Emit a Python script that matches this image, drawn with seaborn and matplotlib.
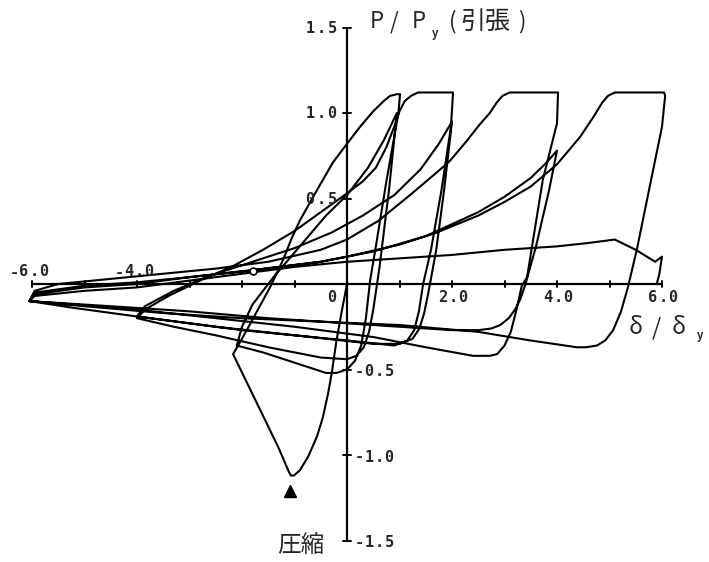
import numpy as np
import pandas as pd
import matplotlib
matplotlib.use("Agg")
import matplotlib.pyplot as plt
import seaborn as sns

# ---- hysteresis branches (delta/delta_y , P/P_y), in loading order ----
# first compression, buckling and post-buckling
b01_x = [0.0, -0.1, -0.2, -0.29, -0.36, -0.46, -0.57, -0.74, -0.9, -1.01, -1.07]
b01_y = [0.0, -0.16, -0.33, -0.52, -0.64, -0.78, -0.89, -1.01, -1.09, -1.12, -1.12]
b02_x = [-1.12, -1.3, -1.6, -1.9, -2.17]
b02_y = [-1.09, -0.96, -0.77, -0.58, -0.41]
# reload to first tension cap
b03_x = [-2.0, -1.75, -1.45, -1.22, -1.05, -0.9, -0.57, -0.27, 0.0, 0.25, 0.5, 0.7, 0.82, 0.95, 1.01]
b03_y = [-0.32, -0.18, -0.01, 0.14, 0.27, 0.37, 0.55, 0.71, 0.82, 0.92, 1.01, 1.07, 1.1, 1.11, 1.11]
b04_x = [0.98, 0.75, 0.55, 0.44, 0.36, 0.27, 0.15, 0.0, -0.2, -0.4, -1.0, -1.6, -2.1]
b04_y = [1.0, 0.6, 0.22, 0.02, -0.2, -0.36, -0.45, -0.5, -0.52, -0.52, -0.46, -0.40, -0.36]
b05_x = [-2.0, -1.8, -1.4, -0.9, -0.4, 0.0, 0.4, 0.7, 0.95]
b05_y = [-0.25, -0.12, 0.04, 0.22, 0.4, 0.52, 0.68, 0.84, 1.0]
b06_x = [0.8, 0.62, 0.5, 0.42, 0.32, 0.18, 0.0, -0.5, -1.5, -2.5, -3.3, -4.0]
b06_y = [0.55, 0.1, -0.15, -0.28, -0.37, -0.42, -0.44, -0.43, -0.37, -0.3, -0.25, -0.2]
# second amplitude
b07_x = [-3.85, -3.4, -2.8, -2.2, -1.6, -1.0, -0.5, 0.0, 0.3, 0.55, 0.75, 0.9, 1.0, 1.1, 1.22, 1.35, 2.02]
b07_y = [-0.15, -0.07, 0.02, 0.1, 0.2, 0.31, 0.42, 0.53, 0.6, 0.68, 0.8, 0.92, 1.01, 1.07, 1.1, 1.12, 1.12]
b08_x = [1.98, 1.8, 1.6, 1.45, 1.37, 1.28, 1.15, 0.9, 0.0, -1.0, -2.0, -3.0, -4.0]
b08_y = [0.92, 0.55, 0.2, 0.0, -0.16, -0.27, -0.33, -0.36, -0.33, -0.3, -0.27, -0.23, -0.19]
b09_x = [-3.85, -3.3, -2.6, -1.8, -1.0, -0.3, 0.3, 0.9, 1.4, 1.75, 2.0]
b09_y = [-0.13, -0.04, 0.05, 0.13, 0.21, 0.3, 0.4, 0.52, 0.67, 0.82, 0.95]
b10_x = [1.85, 1.7, 1.55, 1.47, 1.38, 1.25, 1.0, 0.5, -1.0, -2.5, -4.0, -5.2, -6.05]
b10_y = [0.55, 0.2, -0.05, -0.17, -0.26, -0.32, -0.35, -0.35, -0.3, -0.25, -0.19, -0.14, -0.1]
# third amplitude
b11_x = [-5.95, -5.5, -4.5, -3.5, -2.5, -1.5, -0.5, 0.0, 0.6, 1.2, 1.7, 1.96, 2.29, 2.52, 2.72, 2.85, 2.96, 3.1, 4.02]
b11_y = [-0.04, 0.0, 0.03, 0.06, 0.09, 0.13, 0.2, 0.26, 0.37, 0.52, 0.65, 0.72, 0.84, 0.93, 1.0, 1.06, 1.1, 1.12, 1.12]
b12_x = [4.0, 3.73, 3.43, 3.33, 3.22, 3.12, 3.0, 2.86, 2.72, 2.4, 1.5, 0.5, -1.0, -2.5, -4.0, -5.2, -6.05]
b12_y = [0.94, 0.61, 0.04, -0.01, -0.16, -0.28, -0.36, -0.41, -0.42, -0.42, -0.37, -0.31, -0.25, -0.2, -0.15, -0.12, -0.1]
b13_x = [-5.95, -5.0, -4.0, -3.0, -1.8, -0.5, 0.5, 1.5, 2.5, 3.0, 3.5, 3.8, 4.0]
b13_y = [-0.05, -0.01, 0.01, 0.04, 0.08, 0.13, 0.19, 0.28, 0.42, 0.51, 0.62, 0.71, 0.78]
b14_x = [3.85, 3.6, 3.4, 3.3, 3.2, 3.08, 2.92, 2.75, 2.5, 2.0, 1.0, 0.0, -1.5, -3.0, -4.5, -6.05]
b14_y = [0.55, 0.22, 0.0, -0.09, -0.15, -0.2, -0.24, -0.26, -0.27, -0.27, -0.25, -0.23, -0.2, -0.16, -0.13, -0.1]
# fourth amplitude
b15_x = [-5.95, -5.0, -4.0, -3.0, -1.85, -0.5, 0.0, 1.0, 1.7, 2.5, 3.0, 3.5, 4.0, 4.44, 4.7, 4.86, 4.97, 5.1, 6.04]
b15_y = [-0.06, -0.02, 0.0, 0.04, 0.08, 0.13, 0.16, 0.23, 0.3, 0.4, 0.48, 0.57, 0.7, 0.86, 0.98, 1.06, 1.1, 1.12, 1.12]
b16_x = [6.06, 6.0, 5.52, 5.35, 5.22, 5.07, 4.92, 4.76, 4.55, 4.38, 3.49, 2.5, 1.0, -0.5, -2.0, -3.5, -5.0, -6.05]
b16_y = [1.1, 0.92, 0.2, -0.02, -0.16, -0.27, -0.33, -0.36, -0.37, -0.37, -0.33, -0.28, -0.24, -0.22, -0.2, -0.17, -0.13, -0.1]
b17_x = [-5.95, -5.0, -4.0, -3.0, -2.0, -1.0, 0.0, 1.0, 2.0, 3.0, 4.0, 4.6, 5.1, 5.5, 5.87, 6.0, 5.95, 5.9]
b17_y = [-0.07, -0.04, -0.02, 0.02, 0.06, 0.1, 0.13, 0.15, 0.17, 0.2, 0.22, 0.24, 0.26, 0.2, 0.13, 0.16, 0.06, 0.0]

branches = [(b01_x, b01_y), (b02_x, b02_y), (b03_x, b03_y), (b04_x, b04_y),
            (b05_x, b05_y), (b06_x, b06_y), (b07_x, b07_y), (b08_x, b08_y),
            (b09_x, b09_y), (b10_x, b10_y), (b11_x, b11_y), (b12_x, b12_y),
            (b13_x, b13_y), (b14_x, b14_y), (b15_x, b15_y), (b16_x, b16_y),
            (b17_x, b17_y)]

x_ticks = [-6, -5, -4, -3, -2, -1, 0, 1, 2, 3, 4, 5, 6]
x_labels = ["-6.0", "-4.0", "0", "2.0", "4.0", "6.0"]
x_label_pos = [-6.0, -4.0, 0.0, 2.0, 4.0, 6.0]
y_ticks = [-1.5, -1.0, -0.5, 0.5, 1.0, 1.5]
y_labels = ["-1.5", "-1.0", "-0.5", "0.5", "1.0", "1.5"]
buckling_point = (-1.09, -1.21)
marker_point = (-1.79, 0.076)

sns.set_theme(style="white")
plt.rcParams["font.family"] = ["Noto Sans CJK JP", "DejaVu Sans"]

xs = np.concatenate([np.asarray(b[0], float) for b in branches])
ys = np.concatenate([np.asarray(b[1], float) for b in branches])
df = pd.DataFrame({"d": xs, "p": ys})

# one data unit = 52.5 px horizontally, 171 px vertically; origin at (347, 284) px
X0, Y0, SX, SY = 347.0, 284.0, 52.5, 171.0
W, H = 709, 562

fig = plt.figure(figsize=(W / 100, H / 100), dpi=100)
ax = fig.add_axes([0, 0, 1, 1])
ax.set_xlim(-X0 / SX, (W - X0) / SX)
ax.set_ylim(-(H - Y0) / SY, Y0 / SY)
ax.axis("off")

sns.lineplot(data=df, x="d", y="p", sort=False, estimator=None, color="black",
             lw=1.5, ax=ax, legend=False)

# axes crossing at the origin
ax.plot([-6, 6], [0, 0], color="black", lw=1.6, solid_capstyle="butt")
ax.plot([0, 0], [-1.5, 1.5], color="black", lw=1.6, solid_capstyle="butt")
for t in x_ticks:
    ax.plot([t, t], [-0.018, 0.018], color="black", lw=1.4)
for t in y_ticks:
    ax.plot([-0.075, 0.075], [t, t], color="black", lw=1.4)


def spaced(label, cx_px, cy_px, pitch=10.0, size=11):
    """Write a label one glyph at a time, centred at a pixel position."""
    n = len(label)
    for i, ch in enumerate(label):
        px = cx_px + (i - (n - 1) / 2) * pitch
        ax.text((px - X0) / SX, (Y0 - cy_px) / SY, ch, ha="center", va="center",
                family="DejaVu Sans Mono", fontsize=size, fontweight="bold")


for v, s in zip(x_label_pos, x_labels):
    if v < 0:
        spaced(s, X0 + v * SX - 3, 272)
    elif v == 0:
        spaced(s, 332, 297)
    else:
        spaced(s, X0 + v * SX + 1, 298)
for v, s in zip(y_ticks, y_labels):
    if v > 0:
        spaced(s, 321, Y0 - v * SY + 1, pitch=11)
    else:
        spaced(s, 374, Y0 - v * SY + 2)


def put(s, px, py, size, **kw):
    ax.text((px - X0) / SX, (Y0 - py) / SY, s, ha="left", va="center", fontsize=size, **kw)


# axis titles
put("P", 370, 22, 16)
put("/", 390, 22, 16)
put("P", 412, 22, 16)
put("y", 432, 33, 8, fontweight="bold")
put("(", 449, 22, 16)
put("引張", 460, 22, 18)
put(")", 518, 22, 16)
put("δ", 629, 328, 17)
put("/", 652, 328, 17)
put("δ", 672, 328, 17)
put("y", 697, 336, 8, fontweight="bold")
put("圧縮", 277, 545, 17)

ax.plot(*buckling_point, marker="^", color="black", markersize=9, ls="none")
ax.plot(*marker_point, marker="o", mfc="white", mec="black", markersize=5, mew=1.2, ls="none")

fig.savefig("out.png", dpi=100)
